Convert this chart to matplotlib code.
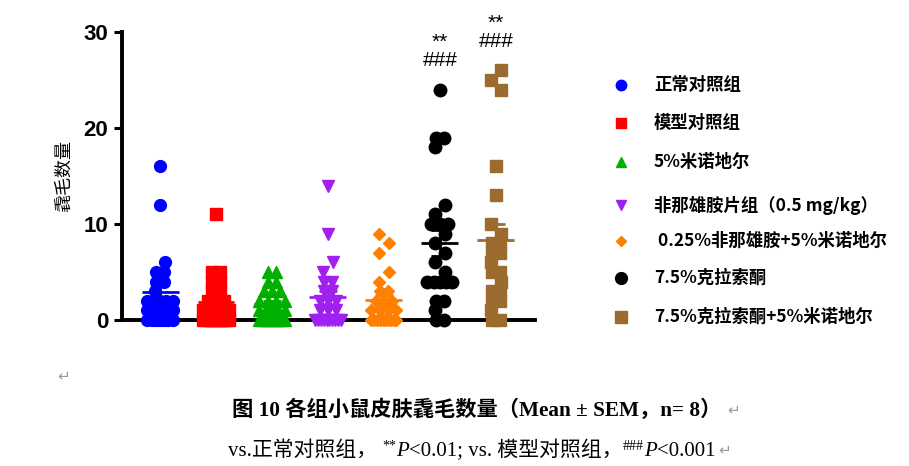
import matplotlib
matplotlib.use("Agg")
import numpy as np
import matplotlib.pyplot as plt
from matplotlib.lines import Line2D
from collections import Counter, defaultdict

# ---- data (hair counts per animal) ----
groups = ["正常对照组", "模型对照组", "5%米诺地尔", "非那雄胺片组（0.5 mg/kg）",
          " 0.25%非那雄胺+5%米诺地尔", "7.5%克拉索酮", "7.5%克拉索酮+5%米诺地尔"]
normal_ctrl = [16, 12, 6, 5, 5, 4, 4, 3, 2, 2, 2, 2, 2, 1, 1, 1, 1, 0, 0, 0, 0, 0, 0, 0]
model_ctrl = [11, 5, 5, 4, 4, 3, 3, 2, 2, 2, 1, 1, 1, 1, 1, 0, 0, 0, 0, 0, 0, 0, 0, 0]
minoxidil = [5, 5, 4, 4, 3, 3, 3, 2, 2, 2, 2, 1, 1, 1, 1, 1, 0, 0, 0, 0, 0, 0, 0, 0]
finasteride_tab = [14, 9, 6, 5, 4, 4, 3, 3, 2, 2, 2, 1, 1, 1, 0, 0, 0, 0, 0, 0, 0, 0, 0, 0]
fin_minox = [9, 8, 7, 5, 4, 3, 3, 2, 2, 2, 1, 1, 1, 1, 0, 0, 0, 0, 0, 0, 0, 0, 0, 0]
clascoterone = [24, 19, 19, 18, 12, 11, 10, 10, 10, 9, 8, 7, 6, 5, 4, 4, 4, 4, 4, 2, 2, 1, 0, 0]
clasco_minox = [26, 25, 24, 16, 13, 10, 9, 8, 8, 7, 7, 6, 5, 5, 4, 3, 3, 2, 2, 1, 0, 0]
series = [normal_ctrl, model_ctrl, minoxidil, finasteride_tab, fin_minox,
          clascoterone, clasco_minox]
sig_labels = ["", "", "", "", "", "**\n###", "**\n###"]
y_ticks = [0, 10, 20, 30]

# ---- styles ----
colors = ["#0000ff", "#ff0000", "#00b000", "#a020f0", "#ff8000", "#000000", "#9c6b30"]
markers = ["o", "s", "^", "v", "D", "o", "s"]
msizes = [8.5, 8.5, 8.5, 8.5, 6.5, 9, 9]
leg_msizes = [7.5, 7.5, 7.5, 7.5, 5.5, 8.5, 9]


def spread(values, step=0.15, max_span=0.45, jog=0.09):
    """Symmetric sideways spread of equal values; lone values next to
    another value zig-zag slightly, like GraphPad's scatter dot plot."""
    counts = Counter(values)
    lone = sorted(v for v, k in counts.items() if k == 1
                  and (v - 1 in counts or v + 1 in counts))
    lone_off = {v: (jog if n % 2 else -jog) for n, v in enumerate(lone)}
    seen = defaultdict(int)
    offs = []
    for v in values:
        k = counts[v]
        if k == 1:
            offs.append(lone_off.get(v, 0.0))
            continue
        st = min(step, max_span / (k - 1))
        offs.append((seen[v] - (k - 1) / 2) * st)
        seen[v] += 1
    return np.array(offs)


fig = plt.figure(figsize=(9.09, 4.66), dpi=100)
ax = fig.add_axes([122 / 909, 1 - 320 / 466, 413 / 909, 288 / 466])

for i, vals in enumerate(series):
    v = np.array(vals, dtype=float)
    ax.plot(i + spread(vals), v, ls="none", marker=markers[i], ms=msizes[i],
            color=colors[i], mec=colors[i], clip_on=False, zorder=3)
    m = v.mean()
    se = v.std(ddof=1) / np.sqrt(len(v))
    ax.hlines(m, i - 0.33, i + 0.33, color=colors[i], lw=2, zorder=4)
    ax.hlines([m - se, m + se], i - 0.16, i + 0.16, color=colors[i], lw=2, zorder=4)
    ax.vlines(i, m - se, m + se, color=colors[i], lw=2, zorder=4)
    if sig_labels[i]:
        ax.text(i, max(vals) + 2.0, sig_labels[i], ha="center", va="bottom",
                fontsize=15, family="Liberation Sans", linespacing=0.95)

ax.set_xlim(-0.68, 6.7)
ax.set_ylim(0, 30)
ax.set_yticks(y_ticks)
ax.set_yticklabels([str(t) for t in y_ticks], fontsize=16, fontweight="bold",
                   family="Liberation Sans")
ax.set_xticks(range(len(series)))
ax.set_xticklabels([])
ax.tick_params(axis="y", length=6, width=2.2, pad=4)
ax.tick_params(axis="x", length=3, width=1.5)
for s in ("top", "right"):
    ax.spines[s].set_visible(False)
for s in ("left", "bottom"):
    ax.spines[s].set_linewidth(2.8)
ax.set_ylabel("毳毛数量", fontsize=13, family=["Noto Sans CJK SC"])
ax.yaxis.set_label_coords(-49 / 413, 0.5)

# legend drawn by hand to match row spacing
rows_y = [85, 123, 162, 205, 241, 278, 317]
for i, (lab, y) in enumerate(zip(groups, rows_y)):
    fy = 1 - y / 466
    fig.add_artist(Line2D([621 / 909], [fy], marker=markers[i], ms=leg_msizes[i],
                          color=colors[i], ls="none", transform=fig.transFigure))
    fig.text(654 / 909, fy, lab, ha="left", va="center", fontsize=12.5,
             fontweight="bold", family=["Noto Sans CJK SC", "DejaVu Sans"])

# caption (Word page)
cap_font = ["Liberation Serif", "Noto Sans CJK SC"]
mark = dict(fontsize=11, color="#9a9a9a", family=["DejaVu Sans"], ha="left",
            va="center")
fig.text(57 / 909, 1 - 376 / 466, "↵", **mark)
fig.text(232 / 909, 1 - 410 / 466, "图 10 各组小鼠皮肤毳毛数量（Mean ± SEM，n= 8）",
         fontsize=15.3, fontweight="bold", family=cap_font, ha="left", va="center")
fig.text(727 / 909, 1 - 410 / 466, "↵", **mark)

# second caption line, laid out piece by piece (superscripts, italic P)
renderer = fig.canvas.get_renderer()
pieces = [("vs.正常对照组， ", 15, "normal", 0),
          ("**", 10, "normal", 6),
          ("P", 15, "italic", 0),
          ("<0.01; vs. 模型对照组，", 15, "normal", 0),
          ("###", 10, "normal", 6),
          ("P", 15, "italic", 0),
          ("<0.001", 15, "normal", 0)]
x = 228
base = 466 - 456
for txt, fs, style, rise in pieces:
    t = fig.text(x / 909, (base + rise) / 466, txt, fontsize=fs, style=style,
                 family=cap_font, ha="left", va="baseline")
    x = t.get_window_extent(renderer).x1
fig.text((x + 3) / 909, 1 - 450 / 466, "↵", **mark)

fig.savefig("out.png", dpi=100)
